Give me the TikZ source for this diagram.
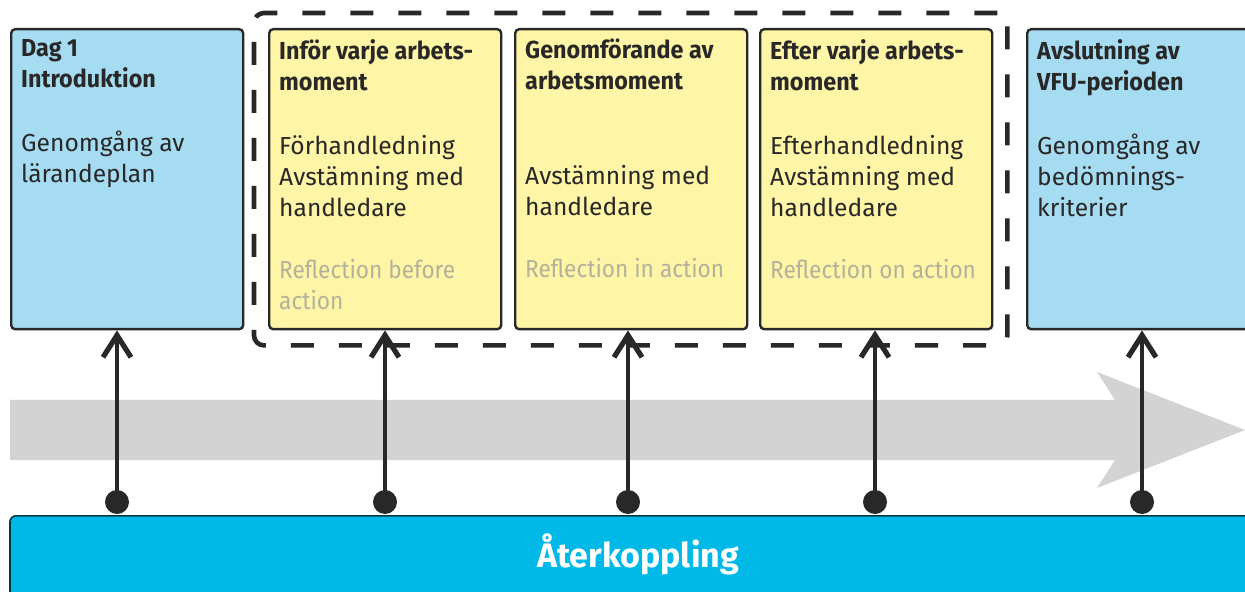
\documentclass[tikz,border=0pt]{standalone}
\usepackage{fontspec}
\setmainfont{Fira Sans}
\newfontfamily\reflfont[FakeStretch=0.92]{Fira Sans}
\newfontfamily\rubrikfont[FakeStretch=0.95]{Fira Sans}
\usepackage{xcolor}
\usetikzlibrary{positioning,arrows.meta,fit}

\definecolor{ljusbla}{RGB}{166,220,242}
\definecolor{ljusgul}{RGB}{255,245,166}
\definecolor{cyanbar}{RGB}{0,185,230}
\definecolor{pilgra}{RGB}{211,211,211}
\definecolor{textgra}{RGB}{40,40,40}
\definecolor{reflgra}{RGB}{178,178,155}

\newcommand{\rubrik}[1]{{\rubrikfont\bfseries #1}}
\newcommand{\refl}[1]{{\reflfont\color{reflgra}#1}}
\newcommand{\rutatext}[1]{\parbox[t][140pt][t]{106pt}{\raggedright #1}}

\tikzset{
  ruta/.style={draw=textgra, line width=1.2pt, rounded corners=2pt, inner sep=5pt,
    anchor=north west, text=textgra, font=\fontsize{12.3pt}{15.5pt}\selectfont},
  bla/.style={ruta, fill=ljusbla},
  gul/.style={ruta, fill=ljusgul},
  ram/.style={draw=textgra, line width=2.3pt, rounded corners=5pt,
    dash pattern=on 11.5pt off 12.5pt, inner xsep=7pt, inner ysep=7.5pt},
  punkt/.style={circle, fill=textgra, minimum size=12pt, inner sep=0pt},
  pil/.style={draw=textgra, line width=2pt,
    -{Straight Barb[length=11pt, width=14pt, line width=2.6pt]}},
  bar/.style={draw=black!70!cyanbar, line width=0.8pt, fill=cyanbar, rounded corners=3pt,
    anchor=north, minimum width=628pt, text=white, inner ysep=14pt, text height=12pt,
    text depth=40pt, font=\bfseries\fontsize{17pt}{20pt}\selectfont}
}

\begin{document}
\begin{tikzpicture}[x=0.5pt, y=-0.5pt]
    \useasboundingbox (0,0) rectangle (1245,592);

    %grå tidspil
    \fill[pilgra] (10,400) -- (1115,400) -- (1097,372) -- (1245,430)
      -- (1097,488) -- (1115,460) -- (10,460) -- cycle;

    %återkoppling
    \node[bar] (fb) at (638,515) {Återkoppling};

    %rutor
    \node[bla] (b1) at (10,28) {\rutatext{\rubrik{Dag 1}\\ \rubrik{Introduktion}\\[16.5pt]
      Genomgång av\\ lärandeplan}};
    \node[gul] (b2) at (268,28) {\rutatext{\rubrik{Inför varje arbets-}\\ \rubrik{moment}\\[16.5pt]
      Förhandledning\\ Avstämning med\\ handledare\\[15.5pt]
      \refl{Reflection before}\\ \refl{action}}};
    \node[gul] (b3) at (514,28) {\rutatext{\rubrik{Genomförande av}\\ \rubrik{arbetsmoment}\\[32pt]
      Avstämning med\\ handledare\\[15.5pt]
      \refl{Reflection in action}}};
    \node[gul] (b4) at (759,28) {\rutatext{\rubrik{Efter varje arbets-}\\ \rubrik{moment}\\[16.5pt]
      Efterhandledning\\ Avstämning med\\ handledare\\[15.5pt]
      \refl{Reflection on action}}};
    \node[bla] (b5) at (1026,28) {\rutatext{\rubrik{Avslutning av}\\ \rubrik{VFU-perioden}\\[16.5pt]
      Genomgång av\\ bedömnings-\\ kriterier}};

    %streckad ram
    \node[ram, fit=(b2)(b4)] (r) {};

    %pilar
    \node[punkt] (p1) at (117,502) {};
    \node[punkt] (p2) at (385,502) {};
    \node[punkt] (p3) at (628,502) {};
    \node[punkt] (p4) at (875,502) {};
    \node[punkt] (p5) at (1142,502) {};
    \draw[pil] (p1.center) -- (p1 |- b1.south);
    \draw[pil] (p2.center) -- (p2 |- b2.south);
    \draw[pil] (p3.center) -- (p3 |- b3.south);
    \draw[pil] (p4.center) -- (p4 |- b4.south);
    \draw[pil] (p5.center) -- (p5 |- b5.south);
\end{tikzpicture}
\end{document}
